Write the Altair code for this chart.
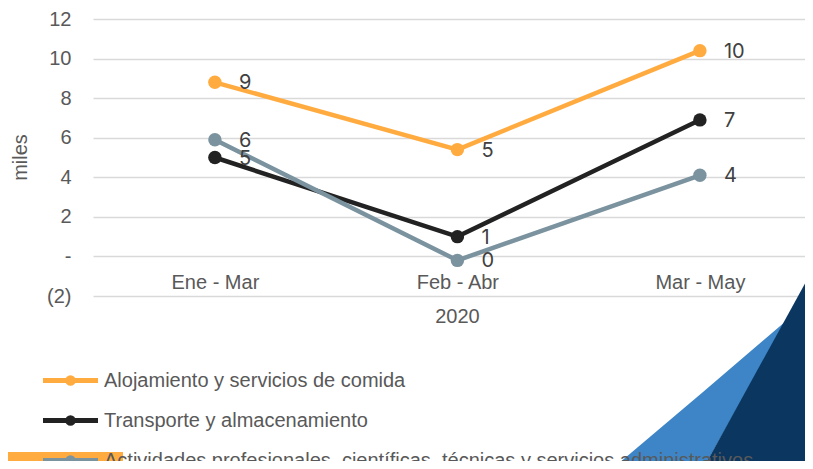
import altair as alt
import pandas as pd

# ---- data ----
categories = ["Ene - Mar", "Feb - Abr", "Mar - May"]
year_label = "2020"
series = [
    "Alojamiento y servicios de comida",
    "Transporte y almacenamiento",
    "Actividades profesionales, científicas, técnicas y servicios administrativos",
]
alojamiento = [8.8, 5.4, 10.4]
transporte = [5.0, 1.0, 6.9]
actividades = [5.9, -0.2, 4.1]
alojamiento_lbl = ["9", "5", "10"]
transporte_lbl = ["5", "1", "7"]
actividades_lbl = ["6", "0", "4"]
colors = ["#FFAB40", "#222222", "#7B929F"]
y_ticks = [-2, 0, 2, 4, 6, 8, 10, 12]

rows = []
for i, (name, vals, lbls) in enumerate(
    zip(series, [alojamiento, transporte, actividades],
        [alojamiento_lbl, transporte_lbl, actividades_lbl])):
    for cat, v, l in zip(categories, vals, lbls):
        rows.append({"serie": name, "periodo": cat, "valor": v, "etiqueta": l, "orden": i})
df = pd.DataFrame(rows)

# ---- decorative shapes (slide background), in page pixels ----
deco_light_x = [612, 703, 786]
deco_light_y = [469, 392, 321]
deco_light_y2 = [469, 469, 321]
deco_dark_x = [703, 813]
deco_dark_y = [469, 269]
deco_dark_y2 = [469, 469]
deco_bar = {"x": [8], "x2": [123], "y": [452], "y2": [469]}

W, H = 712, 277
PX0, PY0 = 93, 19  # page position of the plot origin
FONT = "Liberation Sans"
GREY = "#595959"

px_x = alt.Scale(domain=[PX0, PX0 + W], range=[0, W], nice=False, zero=False)
px_y = alt.Scale(domain=[PY0, PY0 + H], range=[0, H], nice=False, zero=False)

light = alt.Chart(pd.DataFrame({"x": deco_light_x, "y": deco_light_y, "y2": deco_light_y2})).mark_area(
    color="#3D85C6", opacity=1).encode(
    x=alt.X("x:Q", scale=px_x, axis=None),
    y=alt.Y("y:Q", scale=px_y, axis=None),
    y2="y2:Q")
dark = alt.Chart(pd.DataFrame({"x": deco_dark_x, "y": deco_dark_y, "y2": deco_dark_y2})).mark_area(
    color="#0A3660", opacity=1).encode(
    x=alt.X("x:Q", scale=px_x, axis=None),
    y=alt.Y("y:Q", scale=px_y, axis=None),
    y2="y2:Q")
bar = alt.Chart(pd.DataFrame(deco_bar)).mark_rect(color="#FFAB40").encode(
    x=alt.X("x:Q", scale=px_x, axis=None), x2="x2:Q",
    y=alt.Y("y:Q", scale=px_y, axis=None), y2="y2:Q")

xscale = alt.Scale(type="point", domain=categories, padding=0.468, align=0.537)
yscale = alt.Scale(domain=[-2, 12], nice=False, zero=False)

x_enc = alt.X("periodo:N", scale=xscale, sort=categories,
              axis=alt.Axis(title=year_label, domain=False, ticks=False, grid=False,
                            labelAngle=0, labelFont=FONT, labelFontSize=20, labelColor=GREY,
                            labelPadding=-14, labelBaseline="middle",
                            titleFont=FONT, titleFontSize=20, titleColor=GREY,
                            titleFontWeight="normal", titleX=364, titleY=20,
                            titleBaseline="middle", titleAlign="center"))
y_enc = alt.Y("valor:Q", scale=yscale,
              axis=alt.Axis(title="miles", values=y_ticks, domain=False, ticks=False,
                            grid=True, gridColor="#D9D9D9", gridWidth=1.5, labelOverlap=False,
                            labelExpr="datum.value < 0 ? '(' + abs(datum.value) + ')' : (datum.value == 0 ? '-' : datum.label)",
                            labelFont=FONT, labelFontSize=20, labelColor=GREY, labelPadding=22,
                            titleFont=FONT, titleFontSize=20, titleColor=GREY,
                            titleFontWeight="normal", titleX=-73, titleY=138,
                            titleAlign="center", titleBaseline="middle"))

legend_path = ("M-2,0 L2,0 M-0.2,0 A0.2,0.2 0 1,0 0.2,0 A0.2,0.2 0 1,0 -0.2,0")
color_enc = alt.Color("serie:N", scale=alt.Scale(domain=series, range=colors),
                      legend=alt.Legend(title=None, orient="none", legendX=-39, legendY=345,
                                        direction="vertical", symbolType=legend_path,
                                        symbolSize=756, symbolStrokeWidth=5,
                                        labelFont=FONT, labelFontSize=20, labelColor=GREY,
                                        labelOffset=17, labelLimit=0, rowPadding=10,
                                        padding=0, symbolOffset=0))

lines = alt.Chart(df).mark_line(strokeWidth=4.5, point=alt.OverlayMarkDef(filled=True, size=180, opacity=1)).encode(
    x=x_enc, y=y_enc, color=color_enc, order=alt.Order("orden:Q"))

labels = alt.Chart(df).mark_text(align="left", baseline="middle", dx=24, dy=1,
                                 font="Inter", fontSize=20, color="#404040").encode(
    x=x_enc, y=y_enc, text="etiqueta:N")

main = alt.layer(lines, labels)

chart = alt.layer(light, dark, bar, main).resolve_scale(x="independent", y="independent").properties(
    width=W, height=H,
    background="white",
    autosize=alt.AutoSizeParams(type="none"),
    padding={"left": 85, "top": 11, "right": 0, "bottom": 165},
).configure_view(strokeWidth=0, stroke="transparent")

chart.save("out.html", embed_options={"renderer": "svg", "actions": False})
